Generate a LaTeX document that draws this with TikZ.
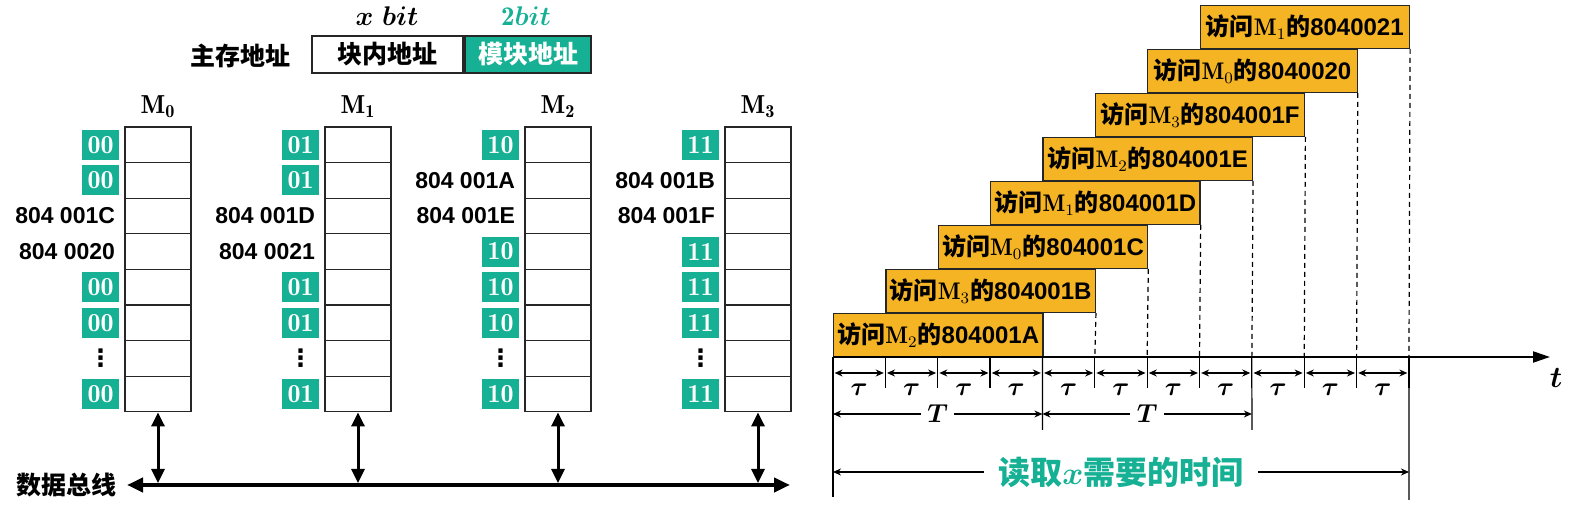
\documentclass[tikz,border=0pt]{standalone}
\usepackage{fix-cm}
\usepackage{amsmath}
\usepackage{bm}
\usepackage{fontspec}
\newfontfamily\cjk{Noto Sans CJK SC}
\newfontfamily\arial{Liberation Sans}
\newfontfamily\symfont{DejaVu Sans}
\usetikzlibrary{positioning, arrows.meta}
\definecolor{mteal}{RGB}{22,176,148}
\definecolor{morange}{RGB}{245,180,35}
\newcommand{\acctext}[2]{访问$\mathbf{M}_{#1}$的{\arial #2}}
\tikzstyle{cell} = [rectangle, draw=black!85, line width=0.6pt,
minimum width=33pt,
minimum height=17.8pt,
inner sep=0pt]
\tikzstyle{tag} = [rectangle, fill=mteal, text=white,
minimum width=18.5pt,
minimum height=15pt,
inner sep=0pt,
font=\fontsize{13}{13}\selectfont]
\tikzstyle{dots} = [minimum width=18.5pt, inner sep=0pt, font=\symfont\bfseries\fontsize{12}{12}\selectfont]
\tikzstyle{addr} = [inner sep=0pt, font=\arial\bfseries\fontsize{11.5}{12}\selectfont]
\tikzstyle{cjktext} = [inner sep=0pt, font=\cjk\bfseries\fontsize{12.5}{13}\selectfont]
\tikzstyle{field} = [rectangle, draw=black!85, line width=1pt,
minimum height=18.5pt,
inner sep=0pt,
font=\cjk\bfseries\fontsize{12.5}{13}\selectfont]
\tikzstyle{access} = [rectangle, draw=black!85, line width=0.6pt, fill=morange,
minimum width=104.7pt,
minimum height=21.4pt,
inner sep=0pt, anchor=south west,
font=\cjk\bfseries\fontsize{12}{12}\selectfont]
\tikzstyle{bus} = [line width=2pt, {Triangle[length=8pt,width=7pt]}-{Triangle[length=8pt,width=7pt]}]
\tikzstyle{link} = [line width=1.5pt, {Triangle[length=7pt,width=6.5pt]}-{Triangle[length=7pt,width=6.5pt]}]
\tikzstyle{axis} = [line width=1.1pt, -{Triangle[length=8.5pt,width=5.5pt]}]
\tikzstyle{tick} = [line width=0.6pt]
\tikzstyle{dashline} = [line width=0.6pt, dash pattern=on 2.5pt off 2pt]
\tikzstyle{span} = [line width=0.6pt, {Stealth[length=4pt,width=3.5pt]}-{Stealth[length=4pt,width=3.5pt]}]
\tikzstyle{onearrow} = [line width=0.6pt, -{Stealth[length=4pt,width=3.5pt]}]

\begin{document}
\begin{tikzpicture}[x=0.5pt, y=-0.5pt, font=\fontsize{12}{14}\selectfont]
			\useasboundingbox (0,0) rectangle (1571,523);

			% address format
			\node (mainaddr) [cjktext] at (240,56) {主存地址};
			\node (inaddr) [field, minimum width=75.5pt] at (387.5,54.5) {块内地址};
			\node (modaddr) [field, fill=mteal, text=white, minimum width=63pt, right=0pt of inaddr] {模块地址};
			\node (xbit) [font=\fontsize{13.5}{13}\selectfont] at (387,16) {$\bm{x\ bit}$};
			\node (twobit) [text=mteal, font=\fontsize{13.5}{13}\selectfont] at (526,16) {$\mathbf{2}\bm{bit}$};

			% memory modules
			\foreach \k in {0,...,3} {
				\foreach \r in {1,...,8}
					\node (m\k-\r) [cell] at ({158+200*\k},{127+35.6*(\r-0.5)}) {};
				\node (mname\k) [font=\fontsize{13}{13}\selectfont] at ({158+200*\k},107) {$\mathbf{M}_{\mathbf{\k}}$};
				\node (dots\k) [dots, left=2.5pt of m\k-7] {⋮};
				\coordinate (bj\k) at ({158+200*\k},483);
			}
			\foreach \k/\b in {0/00,1/01}
				\foreach \r in {1,2,5,6,8}
					\node (t\k-\r) [tag, left=2.5pt of m\k-\r] {$\mathbf{\b}$};
			\foreach \k/\b in {2/10,3/11}
				\foreach \r in {1,4,5,6,8}
					\node (t\k-\r) [tag, left=2.5pt of m\k-\r] {$\mathbf{\b}$};
			\node (a0-3) [addr, left=4.5pt of m0-3] {804 001C};
			\node (a0-4) [addr, left=4.5pt of m0-4] {804 0020};
			\node (a1-3) [addr, left=4.5pt of m1-3] {804 001D};
			\node (a1-4) [addr, left=4.5pt of m1-4] {804 0021};
			\node (a2-2) [addr, left=4.5pt of m2-2] {804 001A};
			\node (a2-3) [addr, left=4.5pt of m2-3] {804 001E};
			\node (a3-2) [addr, left=4.5pt of m3-2] {804 001B};
			\node (a3-3) [addr, left=4.5pt of m3-3] {804 001F};

			% data bus
			\node (buslab) [cjktext, anchor=east, inner xsep=5pt] at (127,485) {数据总线};
			\coordinate (busend) at (790,485);
			\draw[bus] (buslab.east) -- (busend);
			\foreach \k in {0,...,3}
				\draw[link] (m\k-8.south) -- (bj\k);

			% timing
			\foreach \i in {0,...,11} {
				\coordinate (p\i) at ({833+52.36*\i},357);
				\coordinate (q\i) at ({833+52.36*\i},388);
				\coordinate (v\i) at ({833+52.36*\i},373);
				\draw[tick] (p\i) -- (q\i);
			}
			\node (acc0) [access] at (p0) {\acctext{2}{804001A}};
			\node (acc1) [access] at ([xshift=26.18pt]acc0.north west) {\acctext{3}{804001B}};
			\node (acc2) [access] at ([xshift=26.18pt]acc1.north west) {\acctext{0}{804001C}};
			\node (acc3) [access] at ([xshift=26.18pt]acc2.north west) {\acctext{1}{804001D}};
			\node (acc4) [access] at ([xshift=26.18pt]acc3.north west) {\acctext{2}{804001E}};
			\node (acc5) [access] at ([xshift=26.18pt]acc4.north west) {\acctext{3}{804001F}};
			\node (acc6) [access] at ([xshift=26.18pt]acc5.north west) {\acctext{0}{8040020}};
			\node (acc7) [access] at ([xshift=26.18pt]acc6.north west) {\acctext{1}{8040021}};
			\foreach \i/\j in {1/5,2/6,3/7,4/8,5/9,6/10,7/11}
				\draw[dashline] (acc\i.south east) -- (p\j);

			\coordinate (tend) at (1550,357);
			\draw[axis] (p0) -- (tend);
			\node (tname) [font=\fontsize{15}{15}\selectfont] at (1556,378) {$\bm{t}$};

			\foreach \i/\j in {0/1,1/2,2/3,3/4,4/5,5/6,6/7,7/8,8/9,9/10,10/11} {
				\draw[span] ([xshift=0.8pt]v\i) -- ([xshift=-0.8pt]v\j);
				\node (tau\i) [font=\fontsize{13}{13}\selectfont] at ({833+52.36*(\i+0.5)},390) {$\bm{\tau}$};
			}

			\coordinate (w0) at (833,497);
			\coordinate (w4) at (1042.4,430);
			\coordinate (w8) at (1251.9,430);
			\coordinate (w11) at (1409,500);
			\draw[tick] (p0) -- (w0);
			\draw[tick] (p4) -- (w4);
			\draw[tick] (p8) -- (w8);
			\draw[tick] (p11) -- (w11);

			\coordinate (h0) at (833,414);
			\coordinate (h4) at (1042.4,414);
			\coordinate (h8) at (1251.9,414);
			\node (T1) [inner sep=3pt, font=\fontsize{13}{13}\selectfont] at (937.7,414) {$\bm{T}$};
			\node (T2) [inner sep=3pt, font=\fontsize{13}{13}\selectfont] at (1147.1,414) {$\bm{T}$};
			\draw[onearrow] (T1) -- (h0);
			\draw[onearrow] (T1) -- (h4);
			\draw[onearrow] (T2) -- (h4);
			\draw[onearrow] (T2) -- (h8);

			\coordinate (e0) at (833,472);
			\coordinate (e11) at (1409,472);
			\node (readx) [text=mteal, inner xsep=7pt, font=\cjk\bfseries\fontsize{16}{16}\selectfont] at (1121,472) {读取$\bm{x}$需要的时间};
			\draw[onearrow] (readx) -- (e0);
			\draw[onearrow] (readx) -- (e11);
		\end{tikzpicture}
\end{document}
